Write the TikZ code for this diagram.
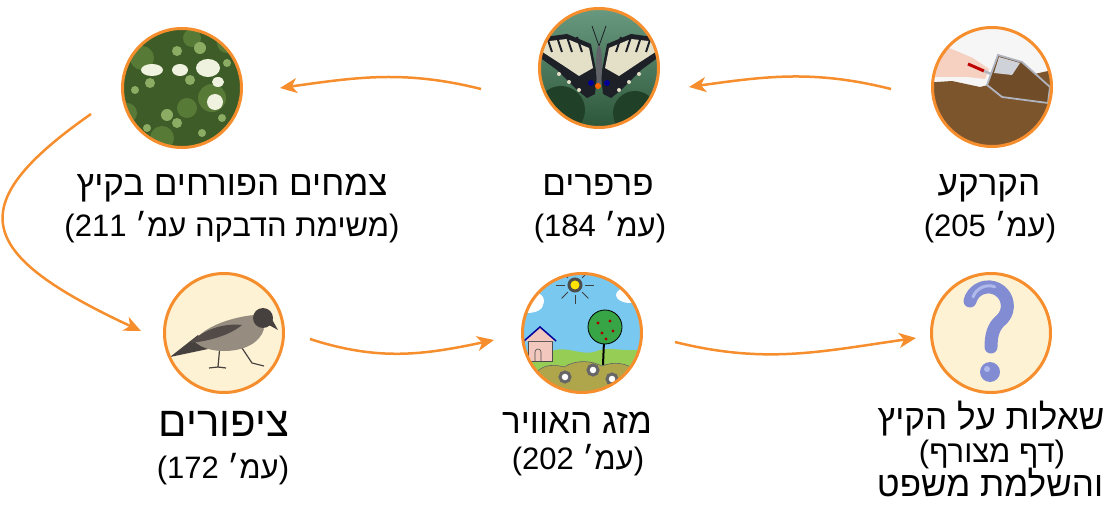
\documentclass[tikz,border=0pt]{standalone}
\usepackage{fontspec}
\newfontfamily\heb[Script=Hebrew]{Liberation Sans}
\TeXXeTstate=1
\usepackage{tikz}
\usetikzlibrary{arrows.meta, positioning, calc}

\definecolor{ringorange}{RGB}{246,142,45}
\definecolor{cream}{RGB}{254,242,212}
\definecolor{leafdark}{RGB}{62,92,40}
\definecolor{leafmid}{RGB}{88,122,55}
\definecolor{leaflight}{RGB}{140,172,100}
\definecolor{bloom}{RGB}{238,242,222}
\definecolor{bfgreen}{RGB}{40,80,50}
\definecolor{bfteal}{RGB}{110,160,135}
\definecolor{wingblack}{RGB}{30,32,40}
\definecolor{wingcream}{RGB}{228,224,200}
\definecolor{soilbrown}{RGB}{125,85,45}
\definecolor{skin}{RGB}{246,208,192}
\definecolor{trowel}{RGB}{175,180,190}
\definecolor{birdgrey}{RGB}{150,140,128}
\definecolor{birddark}{RGB}{70,64,62}
\definecolor{skyblue}{RGB}{120,200,240}
\definecolor{hillgreen}{RGB}{150,205,85}
\definecolor{bushol}{RGB}{175,165,75}
\definecolor{treegreen}{RGB}{55,165,70}
\definecolor{housepink}{RGB}{242,200,190}
\definecolor{qblue}{RGB}{130,140,210}
\definecolor{qlight}{RGB}{175,185,235}

\tikzset{
  photo/.style={circle, draw=ringorange, line width=3pt, minimum size=119pt, inner sep=0pt},
  flow/.style={ringorange, line width=2.5pt, -{Stealth[length=17pt,width=15pt,inset=5pt]}},
  headtext/.style={font=\heb\fontsize{35}{40}\selectfont, anchor=base},
  pagetext/.style={font=\heb\fontsize{31}{36}\selectfont, anchor=base}
}

% pictures inside the circles
\newcommand{\flowerspic}{%
  \begin{scope}[shift={(path picture bounding box.center)}, x=1pt, y=1pt]
    \fill[leafdark] (-70,-70) rectangle (70,70);
    \foreach \x/\y/\r in {-40/30/12, 30/-10/14, -20/-50/12, 45/45/10, -55/-25/10, 5/-20/10, 10/50/9}
      \fill[leafmid] (\x,\y) circle (\r pt);
    \foreach \x/\y/\r in {18/40/6, -5/37/5, -32/5/5, 8/8/5, -47/-2/4, -15/-27/6, -5/-35/5, 40/-30/4, 20/-45/4, -35/-40/4, 45/25/4}
      \fill[leaflight] (\x,\y) circle (\r pt);
    \foreach \x/\y/\a/\b in {26/20/12/9, -2/18/8/6, -30/18/11/6, 33/-14/8/8, 36/6/6/5}
      \fill[bloom] (\x,\y) ellipse (\a pt and \b pt);
  \end{scope}}

% one wing of the butterfly, #1 = 1 (left) or -1 (right)
\newcommand{\bfwing}[1]{%
  \fill[wingblack] ({#1*-2},-8) -- ({#1*-8},24) -- ({#1*-32},34) -- ({#1*-62},30) -- ({#1*-64},14) -- ({#1*-42},-2) -- ({#1*-22},-22) -- ({#1*-12},-30) -- ({#1*-4},-26) -- cycle;
  \fill[wingcream] ({#1*-6},0) -- ({#1*-10},20) -- ({#1*-32},29) -- ({#1*-58},26) -- ({#1*-58},17) -- ({#1*-38},4) -- ({#1*-20},-8) -- cycle;
  \foreach \t in {-52,-42,-32,-22}
    \draw[wingblack, line width=2pt] ({#1*(\t)},31) -- ({#1*(\t+5)},16);
  \foreach \u/\v in {-40/-6, -30/-14, -20/-22}
    \fill[wingcream] ({#1*(\u)},\v) circle (2pt);}

\newcommand{\butterflypic}{%
  \begin{scope}[shift={(path picture bounding box.center)}, x=1pt, y=1pt]
    \shade[top color=bfteal, bottom color=bfgreen] (-70,-70) rectangle (70,70);
    \fill[bfgreen!80!black] (-38,-42) circle (24pt);
    \fill[bfgreen!80!black] (36,-45) circle (22pt);
    \draw[wingblack, line width=0.8pt] (0,22) -- (-7,42);
    \draw[wingblack, line width=0.8pt] (0,22) -- (7,42);
    \bfwing{1}
    \bfwing{-1}
    \fill[wingblack!70] (0,2) ellipse (3pt and 21pt);
    \fill[blue!60!black] (-8,-15) circle (3pt);
    \fill[blue!60!black] (8,-15) circle (3pt);
    \fill[orange!80!red] (-1,-18) circle (3pt);
  \end{scope}}

\newcommand{\soilpic}{%
  \begin{scope}[shift={(path picture bounding box.center)}, x=1pt, y=1pt]
    \fill[white!93!gray] (-70,-70) rectangle (70,70);
    \fill[skin] (-64,32) -- (-50,42) -- (-19,29) -- (-3,18) -- (-7,8) -- (-25,10) -- (-64,10) -- cycle;
    \fill[red!75!black] (-54,44) -- (-44,40) -- (-48,33) -- (-58,36) -- cycle;
    \draw[red!75!black, line width=3pt] (-24,23) -- (-8,16);
    \draw[trowel, line width=2.5pt] (-8,16) -- (4,11);
    \fill[soilbrown] (-70,4) -- (-40,6) -- (-12,0) -- (20,8) -- (56,16) -- (70,20) -- (70,-70) -- (-70,-70) -- cycle;
    \filldraw[fill=soilbrown!90!black, draw=trowel, line width=1.8pt] (6,32) -- (30,25) -- (58,0) -- (56,-16) -- (10,-10) -- (-5,2) -- cycle;
    \fill[trowel!60!white] (7,30) -- (28,24) -- (20,12) -- (2,14) -- cycle;
  \end{scope}}

\newcommand{\birdpic}{%
  \begin{scope}[shift={(path picture bounding box.center)}, x=1pt, y=1pt]
    \fill[cream] (-70,-70) rectangle (70,70);
    \draw[birddark, line width=1.2pt] (-4,-12) -- (-6,-34) -- (-15,-35);
    \draw[birddark, line width=1.2pt] (-6,-34) -- (2,-35);
    \draw[birddark, line width=1.2pt] (16,-12) -- (28,-30) -- (40,-33);
    \fill[birddark] (-54,-24) -- (-26,-2) -- (-16,-16) -- cycle;
    \fill[birdgrey] (-30,-8) .. controls (-18,8) and (10,16) .. (30,18) -- (40,4) .. controls (36,-10) and (20,-18) .. (0,-18) .. controls (-14,-18) and (-24,-14) .. (-30,-8) -- cycle;
    \fill[birddark!85!birdgrey] (-34,-10) .. controls (-20,4) and (0,10) .. (18,8) .. controls (6,-2) and (-14,-8) .. (-34,-10) -- cycle;
    \fill[birddark] (39,15) circle (10pt);
    \fill[birddark] (45,19) -- (54,3) -- (43,9) -- cycle;
  \end{scope}}

\newcommand{\weatherpic}{%
  \begin{scope}[shift={(path picture bounding box.center)}, x=1pt, y=1pt]
    \fill[skyblue] (-70,-70) rectangle (70,70);
    \fill[white] (-55,28) ellipse (16pt and 8pt);
    \fill[white] (-46,32) circle (8pt);
    \fill[white] (48,38) ellipse (14pt and 8pt);
    \fill[white] (56,43) circle (8pt);
    \foreach \a in {0,45,...,315}
      \draw[black!75, line width=0.8pt] (-7,48) ++(\a:10pt) -- ++(\a:9pt);
    \filldraw[fill=yellow!85!orange, draw=black!70] (-7,48) circle (6pt);
    \fill[hillgreen] (-70,-22) .. controls (-55,-14) and (-45,-26) .. (-30,-18) .. controls (-15,-12) and (0,-24) .. (15,-18) .. controls (30,-12) and (45,-22) .. (70,-14) -- (70,-70) -- (-70,-70) -- cycle;
    \filldraw[fill=housepink, draw=black!70, line width=0.6pt] (-54,-28) rectangle (-30,-8);
    \draw[blue!60!black, line width=1.5pt, fill=housepink] (-58,-8) -- (-42,6) -- (-26,-8);
    \draw[black!70, line width=0.6pt] (-47,-28) -- (-47,-19) arc[start angle=180, end angle=0, radius=3pt] -- (-41,-28);
    \draw[black, line width=2pt] (21,-32) -- (22,-8);
    \filldraw[fill=treegreen, draw=black, line width=0.8pt] (23,6) circle (17pt);
    \foreach \x/\y in {16/10, 28/12, 20/0, 31/2, 24/-6}
      \fill[red!65!black] (\x,\y) circle (1.6pt);
    \filldraw[fill=bushol, draw=black!60, line width=0.6pt] (-48,-70) -- (-46,-40) .. controls (-38,-30) and (-25,-32) .. (-18,-34) .. controls (-5,-26) and (10,-28) .. (20,-33) .. controls (32,-28) and (45,-30) .. (55,-38) -- (62,-70) -- cycle;
    \foreach \x/\y in {-17/-44, 11/-37, 30/-46}
      \filldraw[fill=white, draw=black!60] (\x,\y) circle (5pt);
  \end{scope}}

\newcommand{\questionpic}{%
  \begin{scope}[shift={(path picture bounding box.center)}, x=1pt, y=1pt]
    \fill[cream] (-70,-70) rectangle (70,70);
    \draw[qblue, line width=13pt, line cap=round] (-21,32) arc[start angle=165, end angle=-50, radius=19pt] .. controls +(-7,-6) and (0,-2) .. (0,-14);
    \draw[qlight, line width=3pt, line cap=round] (-18,36) arc[start angle=160, end angle=70, radius=17pt];
    \fill[qblue] (-1,-39) circle (10pt);
    \fill[qlight] (-4,-36) circle (3pt);
  \end{scope}}

\begin{document}
\begin{tikzpicture}[x=1pt, y=1pt]
\useasboundingbox (0,0) rectangle (1106,504);

% circles
\node[photo, path picture={\flowerspic}] (flowers) at (182,416) {};
\node[photo, path picture={\butterflypic}] (butterfly) at (599,436) {};
\node[photo, path picture={\soilpic}] (soil) at (992,417) {};
\node[photo, path picture={\birdpic}] (bird) at (224,171) {};
\node[photo, path picture={\weatherpic}] (weather) at (582,171) {};
\node[photo, path picture={\questionpic}] (question) at (991,171) {};

% top row labels
\node[headtext] (flowerstxt) at (232,308) {\beginR צמחים הפורחים בקיץ\endR};
\node[pagetext] (flowersref) at (232,267) {\beginR(משימת הדבקה עמ׳ \beginL211\endL)\endR};
\node[headtext] (butterflytxt) at (598,308) {\beginR פרפרים\endR};
\node[pagetext] (butterflyref) at (600,267) {\beginR(עמ׳ \beginL184\endL)\endR};
\node[headtext] (soiltxt) at (989,308) {\beginR הקרקע\endR};
\node[pagetext] (soilref) at (990,267) {\beginR(עמ׳ \beginL205\endL)\endR};

% bottom row labels
\node[headtext, font=\heb\fontsize{42}{46}\selectfont] (birdtxt) at (224,68) {\beginR ציפורים\endR};
\node[pagetext] (birdref) at (223,26) {\beginR(עמ׳ \beginL172\endL)\endR};
\node[headtext] (weathertxt) at (577,71) {\beginR מזג האוויר\endR};
\node[pagetext] (weatherref) at (578,35) {\beginR(עמ׳ \beginL202\endL)\endR};
\node[headtext] (questiontxt) at (991,75) {\beginR שאלות על הקיץ\endR};
\node[pagetext] (questionref) at (992,42) {\beginR(דף מצורף)\endR};
\node[headtext] (questionmore) at (990,8) {\beginR והשלמת משפט\endR};

% arrows
\draw[flow] ([shift={(-101,-2)}]soil.center) to[out=166,in=8] ([shift={(90,-19)}]butterfly.center);
\draw[flow] ([shift={(-118,-21)}]butterfly.center) to[out=166,in=8] ([shift={(98,0)}]flowers.center);
\draw[flow] ([shift={(-91,-26)}]flowers.center) .. controls +(-133,-93) and +(-163,76) .. ([shift={(-83,2)}]bird.center);
\draw[flow] ([shift={(86,-6)}]bird.center) to[out=-18,in=192] ([shift={(-88,-7)}]weather.center);
\draw[flow] ([shift={(93,-9)}]weather.center) to[out=-14,in=188] ([shift={(-75,-5)}]question.center);
\end{tikzpicture}
\end{document}
